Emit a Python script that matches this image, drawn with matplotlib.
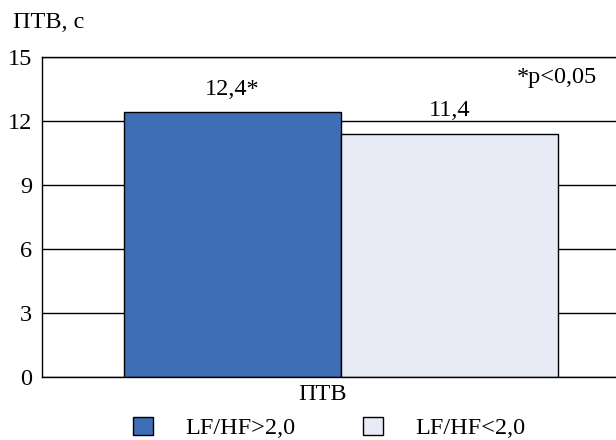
import matplotlib
matplotlib.use("Agg")
import matplotlib.pyplot as plt
from matplotlib.patches import Patch

categories = ["LF/HF>2,0", "LF/HF<2,0"]
values = [12.4, 11.4]
value_labels = ["12,4*", "11,4"]
colors = ["#3F6EB5", "#E8EBF5"]
yticks = [0, 3, 6, 9, 12, 15]
group_label = "ПТВ"

FS = 17.5
plt.rcParams['font.family'] = ['Liberation Serif', 'DejaVu Serif']
fig = plt.figure(figsize=(6.16, 4.40), dpi=100)
ax = fig.add_axes([42/616, 1 - 377/440, (616 - 42)/616, (377 - 57)/440])

x = [0, 1]
ax.set_axisbelow(True)
ax.yaxis.grid(True, color="black", linewidth=1.0)
ax.bar(x, values, width=1.0, color=colors, edgecolor="black", linewidth=1.0)
for xi, v, lab in zip(x, values, value_labels):
    ax.text(xi, v + 0.6, lab, ha="center", va="bottom", fontsize=FS)

ax.set_ylim(0, 15)
ax.set_yticks(yticks)
ax.set_yticklabels([str(t) for t in yticks], fontsize=FS)
left = -(232.5 - 42) / 217
right = 1 + (616 - 449.5) / 217
ax.set_xlim(left, right)
ax.set_xticks([(323 - 232.5) / 217])
ax.set_xticklabels([group_label], fontsize=FS)
ax.tick_params(length=0)
ax.tick_params(axis='x', pad=5)
ax.tick_params(axis='y', pad=7)
for s in ["left", "top", "bottom", "right"]:
    ax.spines[s].set_linewidth(1.0)
ax.spines["right"].set_visible(False)

ax.text(597/616, 1 - 77/440, "*p<0,05", fontsize=FS, ha="right", va="center",
        transform=fig.transFigure)
fig.text(13/616, 1 - 22/440, "ПТВ, с", fontsize=FS, ha="left", va="center")

handles = [Patch(facecolor=c, edgecolor="black", label=l) for c, l in zip(colors, categories)]
fig.legend(handles=handles, loc="center", bbox_to_anchor=(329/616, 1 - 428/440),
           ncol=2, frameon=False, fontsize=FS, handlelength=0.82, handleheight=0.82,
           handletextpad=1.32, columnspacing=2.8, borderpad=0, borderaxespad=0)

fig.savefig("out.png", dpi=100)
